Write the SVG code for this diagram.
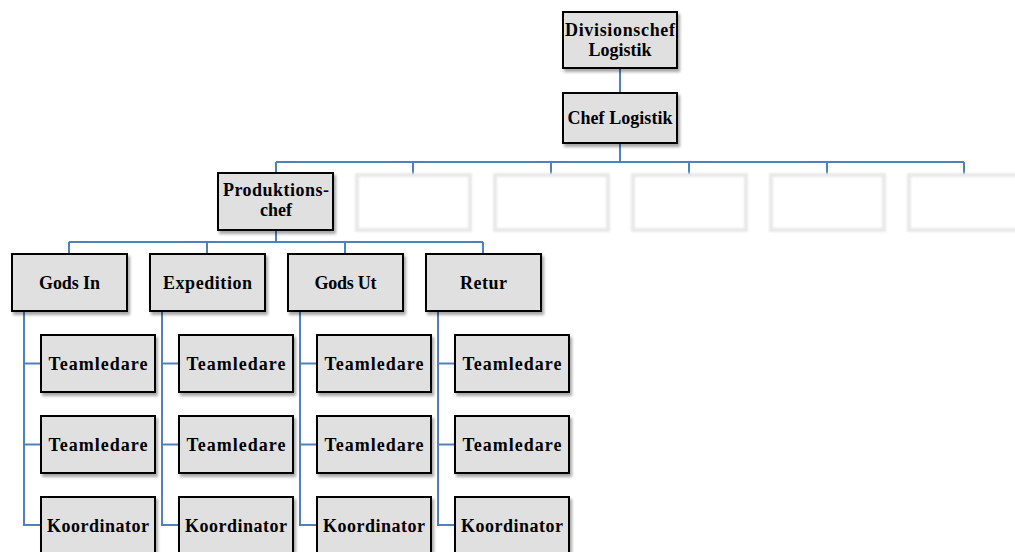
<svg xmlns="http://www.w3.org/2000/svg" width="1015" height="552" viewBox="0 0 1015 552">
<defs>
<filter id="sh" x="-10%" y="-10%" width="130%" height="140%">
<feDropShadow dx="2" dy="3" stdDeviation="1.5" flood-color="#000" flood-opacity="0.35"/>
</filter>
<filter id="gl" x="-10%" y="-10%" width="130%" height="140%">
<feGaussianBlur stdDeviation="1"/>
</filter>
<style>
.b{fill:#e0e0e0;stroke:#000;stroke-width:2;filter:url(#sh)}
.e{fill:#fff;stroke:#e8e8e8;stroke-width:4;filter:url(#gl)}
.t{font-family:"Liberation Serif","DejaVu Serif",serif;font-weight:bold;font-size:18px;fill:#000;text-anchor:middle}
.c{fill:none;stroke:#4f81bd;stroke-width:2}
</style>
</defs>
<g id="connectors" class="c">
<path d="M620,68V93M620,143V162M276,162H964M276,162V173M413,162V175M551,162V175M689,162V175M827,162V175M964,162V175"/>
<path d="M276,230V242M69,242H483M69,242V254M207,242V254M345,242V254M483,242V254"/>
<path d="M24,311V525H41M24,363.5H41M24,444.5H41"/>
<path d="M162,311V525H179M162,363.5H179M162,444.5H179"/>
<path d="M300,311V525H317M300,363.5H317M300,444.5H317"/>
<path d="M438,311V525H455M438,363.5H455M438,444.5H455"/>
</g>
<g id="divisionschef"><rect class="b" x="563" y="12" width="114" height="56"/><text class="t" x="620" y="36" textLength="110">Divisionschef</text><text class="t" x="620" y="56">Logistik</text></g>
<g id="cheflogistik"><rect class="b" x="563" y="93" width="114" height="50"/><text class="t" x="620" y="124" textLength="105">Chef Logistik</text></g>
<g id="produktionschef"><rect class="b" x="218" y="173" width="115" height="57"/><text class="t" x="276" y="196" textLength="106">Produktions-</text><text class="t" x="276" y="216">chef</text></g>
<g id="empty1"><rect class="e" x="357" y="175" width="113" height="55"/></g>
<g id="empty2"><rect class="e" x="495" y="175" width="113" height="55"/></g>
<g id="empty3"><rect class="e" x="633" y="175" width="113" height="55"/></g>
<g id="empty4"><rect class="e" x="771" y="175" width="113" height="55"/></g>
<g id="empty5"><rect class="e" x="909" y="175" width="113" height="55"/></g>
<g id="godsin"><rect class="b" x="12" y="254" width="115" height="57"/><text class="t" x="69.5" y="289" textLength="61">Gods In</text></g>
<g id="expedition"><rect class="b" x="150" y="254" width="115" height="57"/><text class="t" x="207.5" y="289" textLength="89">Expedition</text></g>
<g id="godsut"><rect class="b" x="288" y="254" width="115" height="57"/><text class="t" x="345.5" y="289" textLength="62">Gods Ut</text></g>
<g id="retur"><rect class="b" x="426" y="254" width="115" height="57"/><text class="t" x="483.5" y="289" textLength="47">Retur</text></g>
<g id="tl1a"><rect class="b" x="41" y="335" width="114" height="57"/><text class="t" x="98" y="370" textLength="99">Teamledare</text></g>
<g id="tl1b"><rect class="b" x="41" y="416" width="114" height="57"/><text class="t" x="98" y="451" textLength="99">Teamledare</text></g>
<g id="ko1"><rect class="b" x="41" y="497" width="114" height="57"/><text class="t" x="98" y="532" textLength="102">Koordinator</text></g>
<g id="tl2a"><rect class="b" x="179" y="335" width="114" height="57"/><text class="t" x="236" y="370" textLength="99">Teamledare</text></g>
<g id="tl2b"><rect class="b" x="179" y="416" width="114" height="57"/><text class="t" x="236" y="451" textLength="99">Teamledare</text></g>
<g id="ko2"><rect class="b" x="179" y="497" width="114" height="57"/><text class="t" x="236" y="532" textLength="102">Koordinator</text></g>
<g id="tl3a"><rect class="b" x="317" y="335" width="114" height="57"/><text class="t" x="374" y="370" textLength="99">Teamledare</text></g>
<g id="tl3b"><rect class="b" x="317" y="416" width="114" height="57"/><text class="t" x="374" y="451" textLength="99">Teamledare</text></g>
<g id="ko3"><rect class="b" x="317" y="497" width="114" height="57"/><text class="t" x="374" y="532" textLength="102">Koordinator</text></g>
<g id="tl4a"><rect class="b" x="455" y="335" width="114" height="57"/><text class="t" x="512" y="370" textLength="99">Teamledare</text></g>
<g id="tl4b"><rect class="b" x="455" y="416" width="114" height="57"/><text class="t" x="512" y="451" textLength="99">Teamledare</text></g>
<g id="ko4"><rect class="b" x="455" y="497" width="114" height="57"/><text class="t" x="512" y="532" textLength="102">Koordinator</text></g>
</svg>
